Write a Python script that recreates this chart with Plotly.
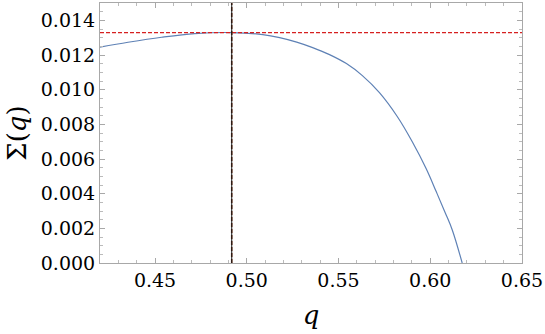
import plotly.graph_objects as go

# curve
q_vals = [0.4200, 0.4353, 0.4536, 0.4717, 0.4918, 0.5087, 0.5179, 0.5272,
          0.5359, 0.5451, 0.5543, 0.5630, 0.5723, 0.5821, 0.5902, 0.5978,
          0.6033, 0.6082, 0.6120, 0.6174]
sigma_vals = [0.012457, 0.012734, 0.013023, 0.013237, 0.013295, 0.013179,
              0.013006, 0.012746, 0.012428, 0.012023, 0.011503, 0.010809,
              0.009827, 0.008439, 0.006994, 0.005434, 0.004104, 0.002890,
              0.001908, 0.0]

q_star = 0.4918
sigma_max = 0.013295

x_ticks = [0.45, 0.50, 0.55, 0.60, 0.65]
x_labels = ["0.45", "0.50", "0.55", "0.60", "0.65"]
y_ticks = [0.000, 0.002, 0.004, 0.006, 0.008, 0.010, 0.012, 0.014]
y_labels = ["0.000", "0.002", "0.004", "0.006", "0.008", "0.010", "0.012", "0.014"]

serif = "DejaVu Serif"

fig = go.Figure()
fig.add_trace(go.Scatter(x=q_vals, y=sigma_vals, mode="lines",
                         line=dict(color="#5E81B5", width=1.2, shape="spline", smoothing=1),
                         showlegend=False))
fig.add_trace(go.Scatter(x=[0.42, 0.65], y=[sigma_max, sigma_max], mode="lines",
                         line=dict(color="#d62020", width=1.2, dash="4px,2px"),
                         showlegend=False))
fig.add_trace(go.Scatter(x=[q_star, q_star], y=[0, 0.015], mode="lines",
                         line=dict(color="#7a3a20", width=1.6, dash="4px,2px"),
                         showlegend=False))
fig.add_trace(go.Scatter(x=[q_star, q_star], y=[0, 0.015], mode="lines",
                         line=dict(color="#111111", width=1),
                         showlegend=False))

axis_common = dict(
    showgrid=False, zeroline=False, showline=True, linecolor="#a8a8a8",
    linewidth=1, mirror="allticks", ticks="inside", ticklen=5, automargin=False,
    tickcolor="#a8a8a8", tickfont=dict(family=serif, size=19, color="black"),
)

fig.update_xaxes(range=[0.42, 0.65], tickvals=x_ticks, ticktext=x_labels,
                 minor=dict(dtick=0.01, ticks="inside", ticklen=3, tickcolor="#bbbbbb"),
                 title=dict(text="<i>q</i>", font=dict(family=serif, size=26, color="black"),
                            standoff=16),
                 **axis_common)
fig.update_yaxes(range=[0, 0.015], tickvals=y_ticks, ticktext=y_labels,
                 minor=dict(dtick=0.0005, ticks="inside", ticklen=3, tickcolor="#bbbbbb"),
                 title=dict(text="Σ(<i>q</i>)", font=dict(family=serif, size=26, color="black"),
                            standoff=6),
                 **axis_common)

fig.update_layout(
    width=545, height=334,
    margin=dict(l=100, r=23, t=3, b=71, pad=0),
    paper_bgcolor="white", plot_bgcolor="white",
    font=dict(family=serif),
)

fig.write_html("out.html", config={"displayModeBar": False},
               post_script="document.body.style.margin='0';")
